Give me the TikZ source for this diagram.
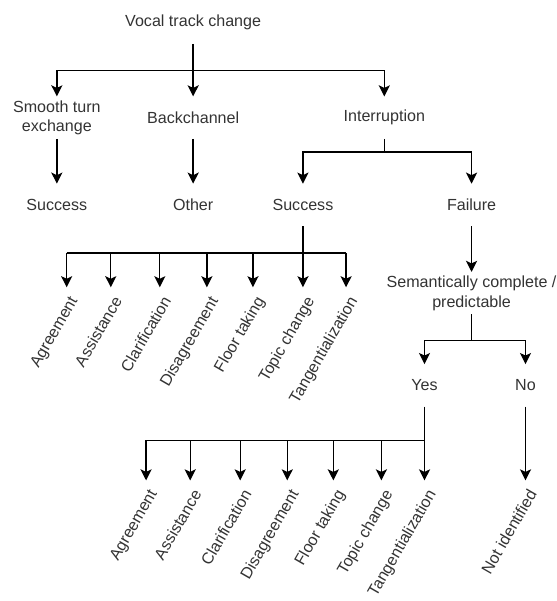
\documentclass[tikz,border=0pt]{standalone}
\usepackage{fontspec}
\setmainfont{Liberation Sans}
\usetikzlibrary{arrows.meta}
\begin{document}
\begin{tikzpicture}[x=0.75pt, y=-0.75pt, line width=1pt,
  txt/.style={inner sep=0pt, minimum height=31.5pt, align=center, text=black!80, font=\fontsize{12.3}{15}\selectfont},
  rot/.style={inner sep=1pt, rotate=60, anchor=north east, text=black!80, font=\fontsize{12.3}{15}\selectfont},
  fl/.style={-{Stealth[length=8.5pt,width=8.5pt,inset=2pt]}}]
\path (0,0) rectangle (568,601); % cadre de l'image

\node[txt] (vocal) at (197,23) {Vocal track change};
\node[txt] (smooth) at (58,120) {Smooth turn\\exchange};
\node[txt] (back) at (197,120) {Backchannel};
\node[txt] (inter) at (392,120) {Interruption};
\node[txt] (succA) at (58,209) {Success};
\node[txt] (other) at (197,209) {Other};
\node[txt] (succB) at (309,209) {Success};
\node[txt] (fail) at (481,209) {Failure};
\node[txt] (sem) at (481,299) {Semantically complete /\\predictable};
\node[txt] (yes) at (433,393) {Yes};
\node[txt] (no) at (536,393) {No};

\coordinate (b1) at (197,72);
\draw[fl] (vocal.south) -- (back.north);
\draw[fl] (b1) -| (smooth.north);
\draw[fl] (b1) -| (inter.north);
\draw[fl] (smooth.south) -- (succA.north);
\draw[fl] (back.south) -- (other.north);

\coordinate (b2) at (392,155);
\draw (inter.south) -- (b2);
\draw[fl] (b2) -| (succB.north);
\draw[fl] (b2) -| (fail.north);
\draw[fl] (fail.south) -- (sem.north);

\coordinate (b3) at (481,347);
\draw (sem.south) -- (b3);
\draw[fl] (b3) -| (yes.north);
\draw[fl] (b3) -| (no.north);

% Success -> types
\coordinate (bs) at (309,258);
\draw (succB.south) -- (bs);
\foreach \x/\t [count=\i] in {68/Agreement, 113/Assistance, 163/Clarification, 211/Disagreement, 258/Floor taking, 309/Topic change, 353/Tangentialization}{
  \coordinate (a\i) at (\x,293);
  \node[rot] (la\i) at ([shift={(1,5)}]a\i) {\t};
  \draw[fl] (bs -| a\i) -- (a\i);
}
\draw (bs -| a1) -- (bs -| a7);

% Yes -> types
\coordinate (by) at (433,449);
\draw (yes.south) -- (by);
\foreach \x/\t [count=\i] in {149/Agreement, 194/Assistance, 245/Clarification, 293/Disagreement, 340/Floor taking, 389/Topic change, 433/Tangentialization}{
  \coordinate (y\i) at (\x,490);
  \node[rot] (ly\i) at ([shift={(1,5)}]y\i) {\t};
  \draw[fl] (by -| y\i) -- (y\i);
}
\draw (by -| y1) -- (by -| y7);

\coordinate (n1) at (536,490);
\draw[fl] (no.south) -- (n1);
\node[rot] (nid) at ([shift={(1,5)}]n1) {Not identified};
\end{tikzpicture}
\end{document}
